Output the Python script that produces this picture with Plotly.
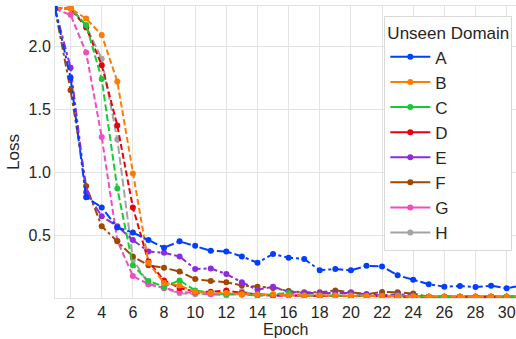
import plotly.graph_objects as go

epochs = list(range(1, 32))

loss_A = [2.30, 1.75, 0.80, 0.72, 0.56, 0.52, 0.46, 0.40, 0.45, 0.415, 0.375, 0.37, 0.33, 0.28, 0.35,
          0.32, 0.31, 0.22, 0.23, 0.22, 0.256, 0.25, 0.18, 0.145, 0.11, 0.09, 0.095, 0.087, 0.098, 0.077, 0.10]
loss_B = [2.30, 2.30, 2.22, 2.09, 1.72, 0.99, 0.28, 0.12, 0.10, 0.05, 0.04, 0.04, 0.03, 0.03, 0.025,
          0.02, 0.02, 0.02, 0.02, 0.02, 0.015, 0.015, 0.015, 0.012, 0.01, 0.01, 0.01, 0.01, 0.01, 0.01, 0.01]
loss_C = [2.30, 2.30, 2.17, 1.74, 0.87, 0.26, 0.135, 0.09, 0.14, 0.06, 0.04, 0.03, 0.03, 0.02, 0.03,
          0.04, 0.02, 0.02, 0.02, 0.02, 0.015, 0.015, 0.02, 0.015, 0.01, 0.01, 0.01, 0.01, 0.01, 0.01, 0.01]
loss_D = [2.30, 2.30, 2.15, 1.85, 1.37, 0.72, 0.29, 0.14, 0.08, 0.05, 0.05, 0.06, 0.04, 0.03, 0.02,
          0.02, 0.02, 0.015, 0.02, 0.015, 0.02, 0.015, 0.01, 0.01, 0.01, 0.01, 0.01, 0.01, 0.01, 0.01, 0.01]
loss_E = [2.30, 1.83, 0.84, 0.65, 0.57, 0.46, 0.37, 0.36, 0.33, 0.23, 0.235, 0.19, 0.125, 0.065, 0.09,
          0.05, 0.04, 0.04, 0.04, 0.04, 0.03, 0.02, 0.03, 0.02, 0.01, 0.01, 0.01, 0.01, 0.01, 0.01, 0.01]
loss_F = [2.30, 1.65, 0.89, 0.57, 0.45, 0.33, 0.26, 0.24, 0.21, 0.15, 0.135, 0.125, 0.10, 0.09, 0.08,
          0.055, 0.045, 0.045, 0.06, 0.045, 0.03, 0.048, 0.045, 0.035, 0.01, 0.01, 0.01, 0.01, 0.01, 0.01, 0.01]
loss_G = [2.296, 2.25, 1.95, 1.28, 0.455, 0.175, 0.11, 0.08, 0.05, 0.04, 0.03, 0.03, 0.025, 0.02, 0.02,
          0.02, 0.015, 0.015, 0.015, 0.015, 0.01, 0.01, 0.01, 0.01, 0.01, 0.01, 0.01, 0.01, 0.01, 0.01, 0.01]
loss_H = [2.30, 2.31, 2.16, 1.90, 1.26, 0.31, 0.11, 0.077, 0.037, 0.03, 0.03, 0.02, 0.055, 0.02, 0.02,
          0.02, 0.02, 0.02, 0.02, 0.02, 0.015, 0.015, 0.015, 0.01, 0.01, 0.01, 0.01, 0.01, 0.01, 0.01, 0.01]

domains = ["A", "B", "C", "D", "E", "F", "G", "H"]
series = [loss_A, loss_B, loss_C, loss_D, loss_E, loss_F, loss_G, loss_H]
colors = ["#023eff", "#ff7c00", "#1ac938", "#e8000b", "#8b2be2", "#9f4800", "#f14cc1", "#a3a3a3"]
dashes = ["9px,3px,3px,3px", "6px,3px", "7px,3px", "6px,3px",
          "8px,3px,3px,3px", "8px,3px,3px,3px", "6px,3px", "8px,3px"]

x_ticks = list(range(2, 31, 2))
y_ticks = [0.5, 1.0, 1.5, 2.0]

fig = go.Figure()
# draw in reverse so that A is on top
for name, vals, col, dsh in reversed(list(zip(domains, series, colors, dashes))):
    fig.add_trace(go.Scatter(
        x=epochs, y=vals, mode="lines+markers", name=name, showlegend=False,
        line=dict(color=col, width=2, dash=dsh),
        marker=dict(color=col, size=6),
    ))
for name, col in zip(domains, colors):
    fig.add_trace(go.Scatter(
        x=[None], y=[None], mode="lines+markers", name=name, showlegend=True,
        line=dict(color=col, width=2), marker=dict(color=col, size=6),
    ))

font = "Liberation Sans, Arial, sans-serif"
grid = "#e3e3e3"
fig.update_layout(
    width=516, height=339,
    margin=dict(l=55, r=0, t=6, b=41),
    paper_bgcolor="white", plot_bgcolor="white",
    font=dict(family=font, size=16, color="#262626"),
    showlegend=True,
    legend=dict(
        title=dict(text="Unseen Domain", side="top center", font=dict(size=17)),
        x=0.992, xanchor="right", y=0.965, yanchor="top",
        bgcolor="rgba(255,255,255,0.9)", bordercolor="#d9d9d9", borderwidth=1,
        font=dict(size=17), itemwidth=40, tracegroupgap=0,
    ),
    annotations=[dict(
        text="Epoch", xref="paper", yref="paper", x=0.5, y=-0.071,
        xanchor="center", yanchor="top", showarrow=False,
        font=dict(size=16, color="#262626"),
    )],
)
fig.update_xaxes(
    range=[1.0, 30.6], tickvals=x_ticks, ticktext=[str(t) for t in x_ticks],
    showgrid=True, gridcolor=grid, gridwidth=1, zeroline=False,
    showline=True, linecolor=grid, mirror=True, ticks="",
    tickfont=dict(size=16), automargin=False,
)
fig.update_yaxes(
    range=[0, 2.32], tickvals=y_ticks, ticktext=["0.5", "1.0", "1.5", "2.0"],
    showgrid=True, gridcolor=grid, gridwidth=1, zeroline=False,
    showline=True, linecolor=grid, mirror=True, ticks="",
    title=dict(text="Loss", standoff=4, font=dict(size=17)), tickfont=dict(size=16),
    automargin=False,
)

fig.write_html("out.html")
